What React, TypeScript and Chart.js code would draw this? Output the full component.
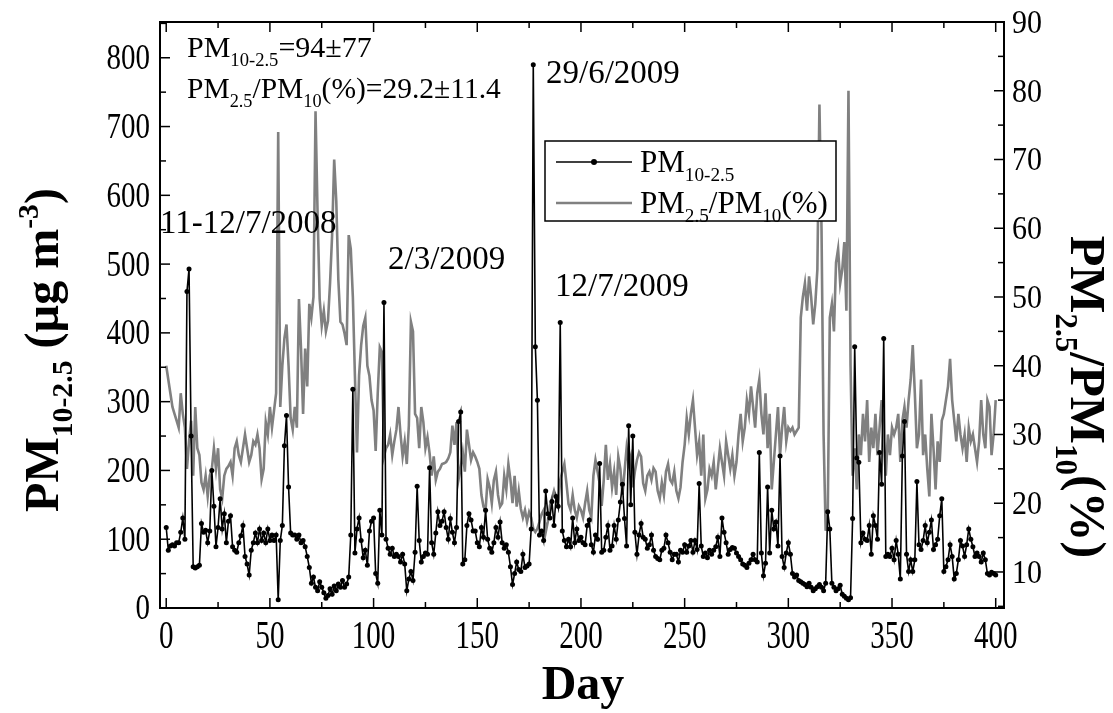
import React, { useEffect, useRef } from "react";
import { Chart, registerables } from "chart.js";
Chart.register(...registerables);

const FONT = "'Liberation Serif', 'Times New Roman', serif";

const days = [
  0, 1, 2, 3, 4, 5, 6, 7, 8, 9, 10, 11, 12, 13, 14, 15, 16, 17, 18, 19,
  20, 21, 22, 23, 24, 25, 26, 27, 28, 29, 30, 31, 32, 33, 34, 35, 36, 37, 38, 39,
  40, 41, 42, 43, 44, 45, 46, 47, 48, 49, 50, 51, 52, 53, 54, 55, 56, 57, 58, 59,
  60, 61, 62, 63, 64, 65, 66, 67, 68, 69, 70, 71, 72, 73, 74, 75, 76, 77, 78, 79,
  80, 81, 82, 83, 84, 85, 86, 87, 88, 89, 90, 91, 92, 93, 94, 95, 96, 97, 98, 99,
  100, 101, 102, 103, 104, 105, 106, 107, 108, 109, 110, 111, 112, 113, 114, 115, 116, 117, 118, 119,
  120, 121, 122, 123, 124, 125, 126, 127, 128, 129, 130, 131, 132, 133, 134, 135, 136, 137, 138, 139,
  140, 141, 142, 143, 144, 145, 146, 147, 148, 149, 150, 151, 152, 153, 154, 155, 156, 157, 158, 159,
  160, 161, 162, 163, 164, 165, 166, 167, 168, 169, 170, 171, 172, 173, 174, 175, 176, 177, 178, 179,
  180, 181, 182, 183, 184, 185, 186, 187, 188, 189, 190, 191, 192, 193, 194, 195, 196, 197, 198, 199,
  200, 201, 202, 203, 204, 205, 206, 207, 208, 209, 210, 211, 212, 213, 214, 215, 216, 217, 218, 219,
  220, 221, 222, 223, 224, 225, 226, 227, 228, 229, 230, 231, 232, 233, 234, 235, 236, 237, 238, 239,
  240, 241, 242, 243, 244, 245, 246, 247, 248, 249, 250, 251, 252, 253, 254, 255, 256, 257, 258, 259,
  260, 261, 262, 263, 264, 265, 266, 267, 268, 269, 270, 271, 272, 273, 274, 275, 276, 277, 278, 279,
  280, 281, 282, 283, 284, 285, 286, 287, 288, 289, 290, 291, 292, 293, 294, 295, 296, 297, 298, 299,
  300, 301, 302, 303, 304, 305, 306, 307, 308, 309, 310, 311, 312, 313, 314, 315, 316, 317, 318, 319,
  320, 321, 322, 323, 324, 325, 326, 327, 328, 329, 330, 331, 332, 333, 334, 335, 336, 337, 338, 339,
  340, 341, 342, 343, 344, 345, 346, 347, 348, 349, 350, 351, 352, 353, 354, 355, 356, 357, 358, 359,
  360, 361, 362, 363, 364, 365, 366, 367, 368, 369, 370, 371, 372, 373, 374, 375, 376, 377, 378, 379,
  380, 381, 382, 383, 384, 385, 386, 387, 388, 389, 390, 391, 392, 393, 394, 395, 396, 397, 398, 399,
  400,
];

// PM10-2.5 (µg m-3), one value per day
const pm = [
  117, 84, 90, 92, 90, 95, 95, 110, 131, 100, 460,
  493, 250, 60, 58, 60, 62, 123, 110, 113, 95,
  112, 200, 148, 89, 117, 159, 115, 137, 95, 126,
  134, 89, 84, 81, 95, 105, 120, 75, 64, 48,
  84, 95, 109, 95, 115, 98, 109, 95, 115, 98,
  106, 98, 106, 12, 98, 120, 236, 280, 176, 109,
  106, 106, 100, 106, 95, 98, 89, 75, 59, 36,
  45, 30, 25, 38, 30, 22, 14, 18, 28, 20,
  32, 25, 35, 30, 40, 30, 35, 45, 106, 318,
  80, 115, 131, 98, 73, 84, 62, 112, 126, 131,
  50, 36, 142, 106, 444, 100, 87, 78, 87, 75,
  78, 75, 67, 78, 64, 25, 42, 53, 40, 81,
  177, 98, 67, 75, 80, 78, 204, 95, 78, 109,
  140, 120, 126, 140, 117, 100, 130, 110, 95, 117,
  271, 285, 64, 70, 120, 137, 128, 112, 112, 95,
  89, 117, 103, 142, 100, 87, 81, 95, 117, 103,
  125, 95, 87, 92, 81, 60, 34, 50, 67, 56,
  53, 78, 59, 61, 64, 115, 790, 380, 302, 106,
  112, 98, 170, 137, 131, 155, 120, 162, 148, 415,
  112, 98, 89, 100, 89, 131, 95, 115, 98, 103,
  95, 92, 120, 128, 92, 81, 106, 100, 210, 81,
  84, 103, 120, 84, 90, 120, 100, 128, 154, 180,
  130, 90, 265, 150, 250, 110, 78, 106, 123, 103,
  100, 87, 92, 106, 84, 75, 72, 70, 84, 87,
  106, 95, 81, 70, 78, 78, 67, 84, 81, 92,
  81, 90, 98, 81, 98, 85, 181, 90, 75, 80,
  73, 84, 78, 84, 89, 103, 75, 131, 110, 95,
  78, 85, 88, 87, 80, 75, 70, 64, 62, 59,
  65, 70, 78, 70, 67, 226, 80, 47, 65, 176,
  80, 142, 115, 125, 90, 221, 75, 59, 80, 95,
  78, 50, 45, 48, 40, 38, 36, 34, 31, 36,
  30, 25, 28, 31, 34, 30, 25, 36, 140, 115,
  36, 30, 25, 28, 33, 20, 17, 14, 12, 15,
  130, 380, 218, 212, 95, 109, 100, 98, 120, 78,
  134, 120, 100, 226, 180, 392, 75, 78, 75, 87,
  70, 98, 78, 42, 221, 271, 78, 53, 70, 53,
  70, 184, 92, 85, 98, 120, 95, 110, 128, 85,
  92, 100, 134, 159, 53, 60, 70, 92, 75, 42,
  50, 70, 98, 90, 75, 92, 115, 100, 89, 75,
  80, 75, 67, 80, 70, 50, 48, 52, 50, 48,
];

// PM2.5/PM10 (%), one value per day
const ratio = [
  40, 38, 36, 34, 33, 32, 31, 36, 33, 31, 25,
  29, 32, 24, 34, 28, 27, 23, 22, 24, 21,
  24, 25, 28, 25, 28, 22, 20.7, 24, 25, 25.4,
  26, 24, 28, 29, 27, 26, 28, 30, 28, 26,
  27, 29, 28.5, 30, 28, 23.5, 25, 31.8, 30, 34,
  31, 33.5, 36, 74, 34, 40, 44, 46, 40, 32.4,
  30.7, 34, 31, 49.7, 42.5, 33, 42.5, 37, 49, 47,
  50, 77, 62, 49.7, 45.8, 48, 45, 46.5, 52, 59,
  70, 64, 52.5, 46.4, 46, 44.7, 43, 59, 57, 50,
  38.5, 27.4, 38.6, 43, 45.8, 47, 40, 38.5, 35, 33.5,
  27.6, 36, 42.7, 42, 26.8, 28, 28.5, 30, 27, 29,
  30.7, 34, 30, 26.8, 29, 25.7, 31.3, 46.4, 45, 33,
  32.4, 28, 34, 31.8, 28, 29.6, 27.3, 24, 26.8, 23.4,
  24.6, 25, 25.7, 25.8, 26, 26.5, 27.4, 31.3, 28.5, 31.8,
  23.5, 25.1, 27.4, 24.6, 30.7, 28.5, 26.3, 27.4, 26.8, 26,
  25, 21.2, 19.5, 19, 23.5, 22.3, 20, 23.4, 24.6, 21.2,
  19.5, 20, 24, 22, 25.7, 23.4, 20, 24, 19.5, 21.8,
  19.2, 17.9, 19, 17.3, 18.7, 17.9, 16.3, 15.8, 16.3, 17.3,
  18.4, 19, 15.8, 17.3, 19.6, 20.7, 21.8, 20.7, 19.6, 23.4,
  24.6, 25.7, 22.9, 19.9, 19, 21.2, 19, 17.9, 19.6, 19,
  17.9, 20, 21.8, 19, 18, 24, 26.3, 24.6, 22.9, 19.6,
  23.4, 28.5, 23.4, 25.7, 22.3, 24.6, 21.2, 26.8, 25, 21.2,
  24.6, 28, 25.7, 26.8, 22.3, 24.6, 26.3, 27.4, 26.8, 22.9,
  21.8, 24, 24.6, 23.4, 25.1, 24.6, 21.8, 20.7, 23, 21.2,
  24.6, 25.7, 23.4, 22.9, 24.6, 21.8, 20.7, 22.3, 26, 28.5,
  32.4, 30, 33, 35, 31, 27, 29, 24, 30, 20.7,
  22, 25, 24, 26, 22, 25, 28, 26, 24, 29,
  27, 25, 27, 24, 26, 30, 33, 29, 31, 35,
  33, 37, 34, 31, 36, 38, 33, 30, 36, 28,
  33, 22, 26, 30, 34, 27, 31, 34, 29, 31,
  30.5, 31, 30, 30.5, 31, 47, 50, 52, 48, 53,
  50, 46, 49, 54, 78, 60, 30, 16, 18, 47,
  49, 45, 55, 57, 52, 54, 58, 48, 80, 40,
  24, 28, 22, 30, 27, 33, 29, 35, 26, 31,
  28, 33, 27, 31, 35, 29, 24, 30, 27, 31,
  30, 31, 33, 26, 32, 34, 31, 35, 38, 43,
  36, 28, 30, 38, 27, 30, 25, 21, 33, 28,
  22, 29, 26, 32, 33, 35, 37, 41, 35, 32,
  29, 33, 30, 28, 30, 26, 31, 29, 30, 28,
  26, 29, 35, 30, 28, 35, 34, 27, 30, 35,
];

const xMajor = [0, 50, 100, 150, 200, 250, 300, 350, 400];
const xMinor = [25, 75, 125, 175, 225, 275, 325, 375];
const leftMajor = [0, 100, 200, 300, 400, 500, 600, 700, 800];
const leftMinor = [50, 150, 250, 350, 450, 550, 650, 750, 850];
const rightMajor = [10, 20, 30, 40, 50, 60, 70, 80, 90];
const rightMinor = [5, 15, 25, 35, 45, 55, 65, 75, 85];

type Seg = { t: string; k?: "sub" | "sup" };

const statLine1: Seg[] = [{ t: "PM" }, { t: "10-2.5", k: "sub" }, { t: "=94±77" }];
const statLine2: Seg[] = [
  { t: "PM" }, { t: "2.5", k: "sub" }, { t: "/PM" }, { t: "10", k: "sub" }, { t: "(%)=29.2±11.4" },
];
const eventLabels = [
  { text: "11-12/7/2008", x: 160, y: 233 },
  { text: "2/3/2009", x: 388, y: 269 },
  { text: "29/6/2009", x: 546, y: 83 },
  { text: "12/7/2009", x: 555, y: 296 },
];
const legendPm: Seg[] = [{ t: "PM" }, { t: "10-2.5", k: "sub" }];
const legendRatio: Seg[] = [
  { t: "PM" }, { t: "2.5", k: "sub" }, { t: "/PM" }, { t: "10", k: "sub" }, { t: "(%)" },
];
const leftTitle: Seg[] = [
  { t: "PM" }, { t: "10-2.5", k: "sub" }, { t: " (µg m" }, { t: "-3", k: "sup" }, { t: ")" },
];
const rightTitle: Seg[] = [
  { t: "PM" }, { t: "2.5", k: "sub" }, { t: "/PM" }, { t: "10", k: "sub" }, { t: "(%)" },
];

function setFont(ctx: CanvasRenderingContext2D, size: number, bold: boolean, k?: string) {
  const s = k ? size * 0.62 : size;
  ctx.font = `${bold ? "bold " : ""}${s}px ${FONT}`;
}

function richWidth(ctx: CanvasRenderingContext2D, segs: Seg[], size: number, bold: boolean) {
  let w = 0;
  for (const s of segs) {
    setFont(ctx, size, bold, s.k);
    w += ctx.measureText(s.t).width;
  }
  return w;
}

function drawRich(
  ctx: CanvasRenderingContext2D, segs: Seg[], x: number, y: number,
  size: number, bold: boolean, align: "left" | "center",
) {
  let cx = align === "center" ? x - richWidth(ctx, segs, size, bold) / 2 : x;
  ctx.textAlign = "left";
  ctx.textBaseline = "alphabetic";
  for (const s of segs) {
    setFont(ctx, size, bold, s.k);
    const dy = s.k === "sub" ? size * 0.3 : s.k === "sup" ? -size * 0.42 : 0;
    ctx.fillText(s.t, cx, y + dy);
    cx += ctx.measureText(s.t).width;
  }
}

// text with a vertical stretch, centred vertically on y
function stretched(
  ctx: CanvasRenderingContext2D, text: string, x: number, y: number,
  size: number, vs: number, align: CanvasTextAlign,
) {
  ctx.save();
  ctx.translate(x, y);
  ctx.scale(1, vs);
  ctx.font = `${size}px ${FONT}`;
  ctx.textAlign = align;
  ctx.textBaseline = "alphabetic";
  ctx.fillText(text, 0, size * 0.33);
  ctx.restore();
}

const decor = {
  id: "decor",
  afterDraw(chart: any) {
    const { ctx, chartArea: a, scales } = chart;
    const sx = scales.x, sy = scales.y, sy1 = scales.y1;
    ctx.save();
    ctx.strokeStyle = "#000";
    ctx.fillStyle = "#000";
    const seg = (x1: number, y1: number, x2: number, y2: number) => {
      ctx.beginPath(); ctx.moveTo(x1, y1); ctx.lineTo(x2, y2); ctx.stroke();
    };
    // inward tick marks
    ctx.lineWidth = 1.5;
    const xt = (vals: number[], L: number) => vals.forEach((v) => {
      const p = sx.getPixelForValue(v);
      seg(p, a.bottom, p, a.bottom - L);
      seg(p, a.top, p, a.top + L);
    });
    xt(xMajor, 10); xt(xMinor, 6);
    const lt = (vals: number[], L: number) => vals.forEach((v) => {
      const p = sy.getPixelForValue(v);
      seg(a.left, p, a.left + L, p);
    });
    lt(leftMajor, 10); lt(leftMinor, 6);
    const rt = (vals: number[], L: number) => vals.forEach((v) => {
      const p = sy1.getPixelForValue(v);
      seg(a.right, p, a.right - L, p);
    });
    rt(rightMajor, 10); rt(rightMinor, 6);
    // frame
    ctx.lineWidth = 2;
    ctx.strokeRect(a.left, a.top, a.right - a.left, a.bottom - a.top);

    // tick labels
    ctx.fillStyle = "#000";
    xMajor.forEach((v) => stretched(ctx, String(v), sx.getPixelForValue(v), 635, 29, 1.35, "center"));
    leftMajor.forEach((v) => stretched(ctx, String(v), a.left - 10, sy.getPixelForValue(v), 29, 1.2, "right"));
    rightMajor.forEach((v) => stretched(ctx, String(v), a.right + 8, sy1.getPixelForValue(v), 30, 1.1, "left"));

    // legend
    ctx.fillStyle = "#fff";
    ctx.fillRect(545, 141, 291, 80);
    ctx.strokeStyle = "#000";
    ctx.lineWidth = 1.5;
    ctx.strokeRect(545, 141, 291, 80);
    ctx.lineWidth = 1.6;
    seg(556, 162, 632, 162);
    ctx.fillStyle = "#000";
    ctx.beginPath(); ctx.arc(594, 162, 3, 0, Math.PI * 2); ctx.fill();
    ctx.strokeStyle = "#808080";
    ctx.lineWidth = 2.5;
    seg(556, 203, 632, 203);
    ctx.fillStyle = "#000";
    drawRich(ctx, legendPm, 640, 172, 31, false, "left");
    drawRich(ctx, legendRatio, 640, 213, 31, false, "left");

    // statistics and event annotations
    drawRich(ctx, statLine1, 187, 57, 30, false, "left");
    drawRich(ctx, statLine2, 187, 98, 29.5, false, "left");
    ctx.font = `33px ${FONT}`;
    ctx.textAlign = "left";
    ctx.textBaseline = "alphabetic";
    eventLabels.forEach((e) => ctx.fillText(e.text, e.x, e.y));

    // axis titles
    ctx.font = `bold 48px ${FONT}`;
    ctx.textAlign = "center";
    ctx.fillText("Day", 583, 699);

    ctx.save();
    ctx.translate(42, 350);
    ctx.rotate(-Math.PI / 2);
    drawRich(ctx, leftTitle, 0, 16, 48, true, "center");
    ctx.restore();

    ctx.save();
    ctx.translate(1087, 397);
    ctx.rotate(Math.PI / 2);
    drawRich(ctx, rightTitle, 0, 16, 50, true, "center");
    ctx.restore();

    ctx.restore();
  },
};

export default function App() {
  const ref = useRef<HTMLCanvasElement>(null);
  useEffect(() => {
    document.body.style.margin = "0";
    const hidden = { display: false };
    const chart = new Chart(ref.current as HTMLCanvasElement, {
      type: "line",
      data: {
        datasets: [
          {
            label: "PM10-2.5",
            data: days.map((d, i) => ({ x: d, y: pm[i] })),
            yAxisID: "y",
            borderColor: "#000",
            backgroundColor: "#000",
            borderWidth: 1.6,
            pointRadius: 2.5,
            pointBorderWidth: 0,
            pointBackgroundColor: "#000",
            pointHoverRadius: 0,
            order: 0,
          },
          {
            label: "PM2.5/PM10(%)",
            data: days.map((d, i) => ({ x: d, y: ratio[i] })),
            yAxisID: "y1",
            borderColor: "#808080",
            backgroundColor: "#808080",
            borderWidth: 2.6,
            pointRadius: 0,
            order: 1,
          },
        ],
      },
      options: {
        responsive: false,
        animation: false,
        events: [],
        layout: { padding: { top: 22, left: 0, right: 0, bottom: 0 } },
        plugins: { legend: { display: false }, tooltip: { enabled: false }, title: { display: false } },
        scales: {
          x: {
            type: "linear",
            position: "bottom",
            min: -3,
            max: 404,
            grid: { display: false },
            border: { display: false },
            ticks: { ...hidden, stepSize: 50, includeBounds: false },
            afterFit: (s: any) => { s.height = 105; },
          },
          y: {
            type: "linear",
            position: "left",
            min: 0,
            max: 852,
            grid: { display: false },
            border: { display: false },
            ticks: { ...hidden, stepSize: 100, includeBounds: false },
            afterFit: (s: any) => { s.width = 160; },
          },
          y1: {
            type: "linear",
            position: "right",
            min: 4.76,
            max: 90,
            grid: { display: false },
            border: { display: false },
            ticks: { ...hidden, stepSize: 10, includeBounds: false },
            afterFit: (s: any) => { s.width = 109; },
          },
        },
      },
      plugins: [decor],
    } as any);
    return () => chart.destroy();
  }, []);
  return (
    <div style={{ width: 1113, height: 713, background: "#fff" }}>
      <canvas ref={ref} width={1113} height={713} style={{ display: "block" }} />
    </div>
  );
}
